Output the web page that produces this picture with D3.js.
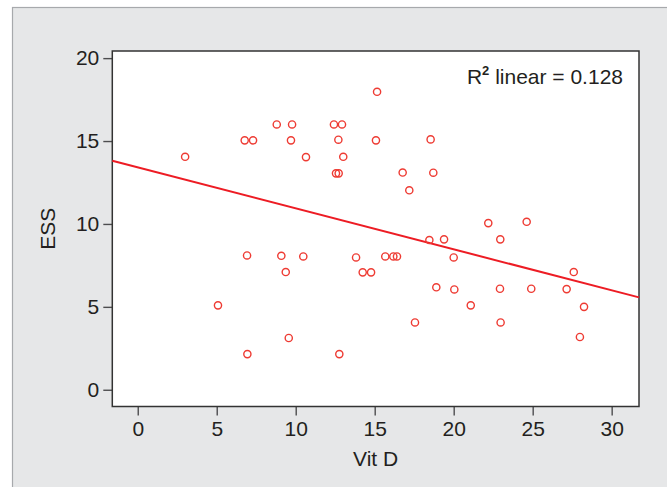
<!DOCTYPE html>
<html>
<head>
<meta charset="utf-8">
<script src="https://cdn.jsdelivr.net/npm/d3@7"></script>
<style>
  body { margin: 0; background: #fff; }
  text { font-family: "Liberation Sans", Arial, sans-serif; fill: #231f20; }
</style>
</head>
<body>
<svg id="chart"></svg>
<script>
// values
const vitD = [3.0, 6.77, 7.3, 8.8, 9.77, 12.42, 12.93, 15.15, 9.7, 12.7,
    15.08, 18.54, 10.65, 13.01, 12.55, 12.72, 16.77, 18.71, 17.19, 22.19,
    24.62, 18.46, 19.39, 22.95, 20.0, 27.6, 18.9, 20.04, 22.93, 24.91,
    27.15, 21.08, 28.25, 22.97, 27.99, 9.09, 10.48, 13.82, 15.67, 16.18,
    16.41, 9.37, 14.24, 14.77, 17.55, 9.56, 12.76, 6.92, 5.08, 6.94];
const ess = [14.05, 15.04, 15.04, 16.0, 16.0, 16.0, 16.0, 17.97, 15.04, 15.08,
    15.04, 15.1, 14.03, 14.05, 13.05, 13.05, 13.1, 13.09, 12.03, 10.05,
    10.13, 9.03, 9.07, 9.07, 7.98, 7.1, 6.18, 6.05, 6.09, 6.09,
    6.07, 5.09, 5.0, 4.06, 3.18, 8.08, 8.04, 7.98, 8.04, 8.04,
    8.04, 7.1, 7.08, 7.08, 4.06, 3.12, 2.15, 8.1, 5.09, 2.15];
const xTicks = [0, 5, 10, 15, 20, 25, 30];
const yTicks = [0, 5, 10, 15, 20];
// linear fit drawn in the picture
const fitIntercept = 13.41;
const fitSlope = -0.247;
const rSquared = "0.128";

const width = 667, height = 487;
const margin = { top: 51, right: 28, bottom: 80.5, left: 112.3 };

const svg = d3.select("#chart").attr("width", width).attr("height", height);

// grey panel
svg.append("rect")
    .attr("x", 12.5).attr("y", 7.5)
    .attr("width", width).attr("height", height)
    .attr("fill", "#e6e7e8")
    .attr("stroke", "#a7a9ac")
    .attr("stroke-width", 1.2);

const x = d3.scaleLinear().domain([-1.61, 31.73]).range([margin.left, width - margin.right]);
const y = d3.scaleLinear().domain([-1.01, 20.43]).range([height - margin.bottom, margin.top]);

svg.append("rect")
    .attr("x", x.range()[0]).attr("y", y.range()[1])
    .attr("width", x.range()[1] - x.range()[0])
    .attr("height", y.range()[0] - y.range()[1])
    .attr("fill", "#fff");

const xAxis = svg.append("g")
    .attr("transform", `translate(0, ${y.range()[0]})`)
    .call(d3.axisBottom(x).tickValues(xTicks).tickSize(9).tickPadding(6));
const yAxis = svg.append("g")
    .attr("transform", `translate(${x.range()[0]}, 0)`)
    .call(d3.axisLeft(y).tickValues(yTicks).tickSize(9).tickPadding(4));

[xAxis, yAxis].forEach(a => {
    a.select(".domain").remove();
    a.selectAll("line").attr("stroke", "#4d4d4f").attr("stroke-width", 1.4);
    a.selectAll("text")
        .attr("font-size", 21)
        .attr("font-family", "Liberation Sans, Arial, sans-serif")
        .attr("fill", "#231f20");
});

// plot frame
svg.append("rect")
    .attr("x", x.range()[0]).attr("y", y.range()[1])
    .attr("width", x.range()[1] - x.range()[0])
    .attr("height", y.range()[0] - y.range()[1])
    .attr("fill", "none")
    .attr("stroke", "#333")
    .attr("stroke-width", 1.5);

// fit line
const xd = x.domain();
svg.append("line")
    .attr("x1", x(xd[0])).attr("y1", y(fitIntercept + fitSlope * xd[0]))
    .attr("x2", x(xd[1])).attr("y2", y(fitIntercept + fitSlope * xd[1]))
    .attr("stroke", "#ed1c24")
    .attr("stroke-width", 2);

svg.append("g")
    .selectAll("circle")
    .data(vitD)
    .join("circle")
    .attr("cx", d => x(d))
    .attr("cy", (d, i) => y(ess[i]))
    .attr("r", 3.6)
    .attr("fill", "none")
    .attr("stroke", "#ee3b33")
    .attr("stroke-width", 1.4);

// labels
svg.append("text")
    .attr("x", (x.range()[0] + x.range()[1]) / 2)
    .attr("y", 466)
    .attr("text-anchor", "middle")
    .attr("font-size", 21)
    .text("Vit D");

svg.append("text")
    .attr("transform", `translate(55, ${(y.range()[0] + y.range()[1]) / 2}) rotate(-90)`)
    .attr("text-anchor", "middle")
    .attr("font-size", 21)
    .text("ESS");

const r2 = svg.append("text")
    .attr("x", 623)
    .attr("y", 84)
    .attr("text-anchor", "end")
    .attr("font-size", 21);
r2.append("tspan").text("R");
r2.append("tspan").attr("dy", -9).attr("font-size", 13).attr("font-weight", "bold").text("2");
r2.append("tspan").attr("dy", 9).text(" linear = " + rSquared);
</script>
</body>
</html>
